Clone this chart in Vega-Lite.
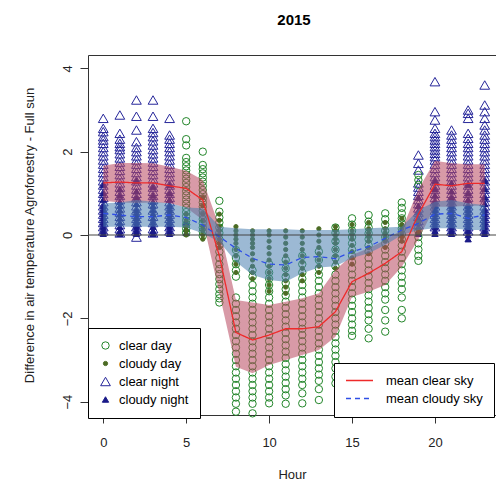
{
"$schema":"https://vega.github.io/schema/vega-lite/v6.json",
"width":408,"height":360,
"autosize":{"type":"none"},
"padding":{"left":88,"top":55,"right":0,"bottom":66},
"title":{"text":"2015","fontSize":15,"fontWeight":"bold","font":"Liberation Sans","color":"black","offset":27,"anchor":"middle","dx":2},
"config":{
 "font":"Liberation Sans",
 "view":{"stroke":"#333","strokeWidth":1},
 "axis":{"grid":false,"domain":false,"tickColor":"#333","tickSize":8,"labelFontSize":13,"labelColor":"#222","titleFontSize":13,"titleFontWeight":"normal","titleColor":"#222","labelFont":"Liberation Sans","titleFont":"Liberation Sans"}
},
"datasets":{
"stats":[
{"h":0,"s":"clear","m":1.25,"lo":0.82,"hi":1.66},
{"h":1,"s":"clear","m":1.27,"lo":0.78,"hi":1.73},
{"h":2,"s":"clear","m":1.25,"lo":0.77,"hi":1.73},
{"h":3,"s":"clear","m":1.25,"lo":0.78,"hi":1.72},
{"h":4,"s":"clear","m":1.18,"lo":0.76,"hi":1.64},
{"h":5,"s":"clear","m":1.12,"lo":0.66,"hi":1.54},
{"h":6,"s":"clear","m":0.84,"lo":0.36,"hi":1.32},
{"h":7,"s":"clear","m":-0.5,"lo":-1.4,"hi":0.2},
{"h":8,"s":"clear","m":-2.34,"lo":-3.16,"hi":-1.56},
{"h":9,"s":"clear","m":-2.52,"lo":-3.32,"hi":-1.62},
{"h":10,"s":"clear","m":-2.4,"lo":-3.12,"hi":-1.68},
{"h":11,"s":"clear","m":-2.25,"lo":-3.0,"hi":-1.6},
{"h":12,"s":"clear","m":-2.25,"lo":-2.88,"hi":-1.52},
{"h":13,"s":"clear","m":-2.2,"lo":-2.76,"hi":-1.4},
{"h":14,"s":"clear","m":-1.84,"lo":-2.44,"hi":-0.84},
{"h":15,"s":"clear","m":-1.12,"lo":-1.48,"hi":-0.48},
{"h":16,"s":"clear","m":-0.92,"lo":-1.36,"hi":-0.32},
{"h":17,"s":"clear","m":-0.68,"lo":-1.2,"hi":-0.12},
{"h":18,"s":"clear","m":-0.4,"lo":-0.76,"hi":0.12},
{"h":19,"s":"clear","m":0.5,"lo":-0.1,"hi":1.1},
{"h":20,"s":"clear","m":1.22,"lo":0.68,"hi":1.78},
{"h":21,"s":"clear","m":1.18,"lo":0.68,"hi":1.72},
{"h":22,"s":"clear","m":1.24,"lo":0.7,"hi":1.7},
{"h":23,"s":"clear","m":1.24,"lo":0.7,"hi":1.7},
{"h":0,"s":"cloudy","m":0.52,"lo":0.2,"hi":0.76},
{"h":1,"s":"cloudy","m":0.48,"lo":0.2,"hi":0.78},
{"h":2,"s":"cloudy","m":0.44,"lo":0.2,"hi":0.84},
{"h":3,"s":"cloudy","m":0.44,"lo":0.2,"hi":0.8},
{"h":4,"s":"cloudy","m":0.48,"lo":0.2,"hi":0.76},
{"h":5,"s":"cloudy","m":0.42,"lo":0.18,"hi":0.66},
{"h":6,"s":"cloudy","m":0.24,"lo":0.04,"hi":0.64},
{"h":7,"s":"cloudy","m":-0.04,"lo":-0.16,"hi":0.2},
{"h":8,"s":"cloudy","m":-0.32,"lo":-0.64,"hi":0.16},
{"h":9,"s":"cloudy","m":-0.56,"lo":-0.96,"hi":0.14},
{"h":10,"s":"cloudy","m":-0.7,"lo":-1.08,"hi":0.14},
{"h":11,"s":"cloudy","m":-0.72,"lo":-1.12,"hi":0.14},
{"h":12,"s":"cloudy","m":-0.54,"lo":-0.92,"hi":0.12},
{"h":13,"s":"cloudy","m":-0.52,"lo":-0.78,"hi":0.12},
{"h":14,"s":"cloudy","m":-0.57,"lo":-0.75,"hi":0.12},
{"h":15,"s":"cloudy","m":-0.4,"lo":-0.55,"hi":0.14},
{"h":16,"s":"cloudy","m":-0.28,"lo":-0.44,"hi":0.16},
{"h":17,"s":"cloudy","m":-0.08,"lo":-0.24,"hi":0.18},
{"h":18,"s":"cloudy","m":0.12,"lo":0.0,"hi":0.2},
{"h":19,"s":"cloudy","m":0.28,"lo":0.12,"hi":0.6},
{"h":20,"s":"cloudy","m":0.5,"lo":0.16,"hi":0.8},
{"h":21,"s":"cloudy","m":0.52,"lo":0.16,"hi":0.84},
{"h":22,"s":"cloudy","m":0.4,"lo":0.12,"hi":0.76},
{"h":23,"s":"cloudy","m":0.48,"lo":0.12,"hi":0.72}
],
"pts":[
{"h":0,"t":"cn","v":2.8},{"h":0,"t":"cn","v":2.56},{"h":0,"t":"cn","v":2.48},{"h":0,"t":"cn","v":2.36},{"h":0,"t":"cn","v":2.28},{"h":0,"t":"cn","v":2.2},{"h":0,"t":"cn","v":2.1},{"h":0,"t":"cn","v":2.0},{"h":0,"t":"cn","v":1.9},{"h":0,"t":"cn","v":1.8},{"h":0,"t":"cn","v":1.7},{"h":0,"t":"cn","v":1.6},{"h":0,"t":"cn","v":1.5},{"h":0,"t":"cn","v":1.4},{"h":0,"t":"cn","v":1.3},{"h":0,"t":"cn","v":1.2},{"h":0,"t":"cn","v":1.1},{"h":0,"t":"cn","v":1.0},{"h":0,"t":"cn","v":0.9},{"h":0,"t":"cn","v":0.8},{"h":0,"t":"cn","v":0.7},{"h":0,"t":"cn","v":0.6},{"h":0,"t":"cn","v":0.5},{"h":0,"t":"cn","v":0.4},{"h":0,"t":"cn","v":0.3},{"h":0,"t":"cn","v":0.2},{"h":0,"t":"cn","v":0.1},
{"h":1,"t":"cn","v":2.88},{"h":1,"t":"cn","v":2.44},{"h":1,"t":"cn","v":2.3},{"h":1,"t":"cn","v":2.2},{"h":1,"t":"cn","v":2.12},{"h":1,"t":"cn","v":2.05},{"h":1,"t":"cn","v":1.95},{"h":1,"t":"cn","v":1.85},{"h":1,"t":"cn","v":1.75},{"h":1,"t":"cn","v":1.65},{"h":1,"t":"cn","v":1.55},{"h":1,"t":"cn","v":1.45},{"h":1,"t":"cn","v":1.35},{"h":1,"t":"cn","v":1.25},{"h":1,"t":"cn","v":1.15},{"h":1,"t":"cn","v":1.05},{"h":1,"t":"cn","v":0.95},{"h":1,"t":"cn","v":0.85},{"h":1,"t":"cn","v":0.75},{"h":1,"t":"cn","v":0.65},{"h":1,"t":"cn","v":0.55},{"h":1,"t":"cn","v":0.45},{"h":1,"t":"cn","v":0.35},{"h":1,"t":"cn","v":0.25},{"h":1,"t":"cn","v":0.15},{"h":1,"t":"cn","v":0.05},
{"h":2,"t":"cn","v":3.24},{"h":2,"t":"cn","v":2.85},{"h":2,"t":"cn","v":2.52},{"h":2,"t":"cn","v":2.24},{"h":2,"t":"cn","v":2.1},{"h":2,"t":"cn","v":2.0},{"h":2,"t":"cn","v":1.9},{"h":2,"t":"cn","v":1.8},{"h":2,"t":"cn","v":1.7},{"h":2,"t":"cn","v":1.6},{"h":2,"t":"cn","v":1.5},{"h":2,"t":"cn","v":1.4},{"h":2,"t":"cn","v":1.3},{"h":2,"t":"cn","v":1.2},{"h":2,"t":"cn","v":1.1},{"h":2,"t":"cn","v":1.0},{"h":2,"t":"cn","v":0.9},{"h":2,"t":"cn","v":0.8},{"h":2,"t":"cn","v":0.7},{"h":2,"t":"cn","v":0.6},{"h":2,"t":"cn","v":0.5},{"h":2,"t":"cn","v":0.4},{"h":2,"t":"cn","v":0.3},{"h":2,"t":"cn","v":0.2},{"h":2,"t":"cn","v":0.1},{"h":2,"t":"cn","v":-0.05},
{"h":3,"t":"cn","v":3.24},{"h":3,"t":"cn","v":2.85},{"h":3,"t":"cn","v":2.56},{"h":3,"t":"cn","v":2.46},{"h":3,"t":"cn","v":2.36},{"h":3,"t":"cn","v":2.26},{"h":3,"t":"cn","v":2.16},{"h":3,"t":"cn","v":2.05},{"h":3,"t":"cn","v":1.95},{"h":3,"t":"cn","v":1.85},{"h":3,"t":"cn","v":1.75},{"h":3,"t":"cn","v":1.65},{"h":3,"t":"cn","v":1.55},{"h":3,"t":"cn","v":1.45},{"h":3,"t":"cn","v":1.35},{"h":3,"t":"cn","v":1.25},{"h":3,"t":"cn","v":1.15},{"h":3,"t":"cn","v":1.05},{"h":3,"t":"cn","v":0.95},{"h":3,"t":"cn","v":0.85},{"h":3,"t":"cn","v":0.75},{"h":3,"t":"cn","v":0.6},{"h":3,"t":"cn","v":0.45},{"h":3,"t":"cn","v":0.3},{"h":3,"t":"cn","v":0.15},{"h":3,"t":"cn","v":0.05},
{"h":4,"t":"cn","v":2.8},{"h":4,"t":"cn","v":2.4},{"h":4,"t":"cn","v":2.3},{"h":4,"t":"cn","v":2.2},{"h":4,"t":"cn","v":2.1},{"h":4,"t":"cn","v":2.0},{"h":4,"t":"cn","v":1.9},{"h":4,"t":"cn","v":1.8},{"h":4,"t":"cn","v":1.7},{"h":4,"t":"cn","v":1.6},{"h":4,"t":"cn","v":1.5},{"h":4,"t":"cn","v":1.4},{"h":4,"t":"cn","v":1.3},{"h":4,"t":"cn","v":1.2},{"h":4,"t":"cn","v":1.1},{"h":4,"t":"cn","v":1.0},{"h":4,"t":"cn","v":0.9},{"h":4,"t":"cn","v":0.8},{"h":4,"t":"cn","v":0.7},{"h":4,"t":"cn","v":0.6},{"h":4,"t":"cn","v":0.5},{"h":4,"t":"cn","v":0.4},{"h":4,"t":"cn","v":0.3},{"h":4,"t":"cn","v":0.2},{"h":4,"t":"cn","v":0.1},
{"h":19,"t":"cn","v":1.92},{"h":19,"t":"cn","v":1.72},{"h":19,"t":"cn","v":1.56},{"h":19,"t":"cn","v":1.25},{"h":19,"t":"cn","v":1.15},{"h":19,"t":"cn","v":1.05},{"h":19,"t":"cn","v":0.95},{"h":19,"t":"cn","v":0.85},{"h":19,"t":"cn","v":0.75},{"h":19,"t":"cn","v":0.65},{"h":19,"t":"cn","v":0.55},{"h":19,"t":"cn","v":0.45},{"h":19,"t":"cn","v":0.35},{"h":19,"t":"cn","v":0.25},
{"h":20,"t":"cn","v":3.68},{"h":20,"t":"cn","v":2.96},{"h":20,"t":"cn","v":2.76},{"h":20,"t":"cn","v":2.56},{"h":20,"t":"cn","v":2.44},{"h":20,"t":"cn","v":2.36},{"h":20,"t":"cn","v":2.28},{"h":20,"t":"cn","v":2.2},{"h":20,"t":"cn","v":2.12},{"h":20,"t":"cn","v":2.04},{"h":20,"t":"cn","v":1.96},{"h":20,"t":"cn","v":1.88},{"h":20,"t":"cn","v":1.8},{"h":20,"t":"cn","v":1.7},{"h":20,"t":"cn","v":1.6},{"h":20,"t":"cn","v":1.5},{"h":20,"t":"cn","v":1.4},{"h":20,"t":"cn","v":1.3},{"h":20,"t":"cn","v":1.2},{"h":20,"t":"cn","v":1.1},{"h":20,"t":"cn","v":1.0},{"h":20,"t":"cn","v":0.9},{"h":20,"t":"cn","v":0.8},{"h":20,"t":"cn","v":0.7},{"h":20,"t":"cn","v":0.6},{"h":20,"t":"cn","v":0.5},{"h":20,"t":"cn","v":0.4},{"h":20,"t":"cn","v":0.3},{"h":20,"t":"cn","v":0.2},
{"h":21,"t":"cn","v":2.52},{"h":21,"t":"cn","v":2.4},{"h":21,"t":"cn","v":2.3},{"h":21,"t":"cn","v":2.2},{"h":21,"t":"cn","v":2.1},{"h":21,"t":"cn","v":2.0},{"h":21,"t":"cn","v":1.9},{"h":21,"t":"cn","v":1.8},{"h":21,"t":"cn","v":1.7},{"h":21,"t":"cn","v":1.6},{"h":21,"t":"cn","v":1.5},{"h":21,"t":"cn","v":1.4},{"h":21,"t":"cn","v":1.3},{"h":21,"t":"cn","v":1.2},{"h":21,"t":"cn","v":1.1},{"h":21,"t":"cn","v":1.0},{"h":21,"t":"cn","v":0.9},{"h":21,"t":"cn","v":0.8},{"h":21,"t":"cn","v":0.7},{"h":21,"t":"cn","v":0.6},{"h":21,"t":"cn","v":0.5},{"h":21,"t":"cn","v":0.4},{"h":21,"t":"cn","v":0.3},{"h":21,"t":"cn","v":0.2},{"h":21,"t":"cn","v":0.1},
{"h":22,"t":"cn","v":3.0},{"h":22,"t":"cn","v":2.92},{"h":22,"t":"cn","v":2.8},{"h":22,"t":"cn","v":2.44},{"h":22,"t":"cn","v":2.32},{"h":22,"t":"cn","v":2.2},{"h":22,"t":"cn","v":2.1},{"h":22,"t":"cn","v":2.0},{"h":22,"t":"cn","v":1.9},{"h":22,"t":"cn","v":1.8},{"h":22,"t":"cn","v":1.7},{"h":22,"t":"cn","v":1.6},{"h":22,"t":"cn","v":1.5},{"h":22,"t":"cn","v":1.4},{"h":22,"t":"cn","v":1.3},{"h":22,"t":"cn","v":1.2},{"h":22,"t":"cn","v":1.1},{"h":22,"t":"cn","v":1.0},{"h":22,"t":"cn","v":0.9},{"h":22,"t":"cn","v":0.8},{"h":22,"t":"cn","v":0.7},{"h":22,"t":"cn","v":0.6},{"h":22,"t":"cn","v":0.5},{"h":22,"t":"cn","v":0.4},{"h":22,"t":"cn","v":0.3},{"h":22,"t":"cn","v":0.2},{"h":22,"t":"cn","v":0.1},
{"h":23,"t":"cn","v":3.6},{"h":23,"t":"cn","v":3.12},{"h":23,"t":"cn","v":2.96},{"h":23,"t":"cn","v":2.8},{"h":23,"t":"cn","v":2.64},{"h":23,"t":"cn","v":2.52},{"h":23,"t":"cn","v":2.4},{"h":23,"t":"cn","v":2.3},{"h":23,"t":"cn","v":2.2},{"h":23,"t":"cn","v":2.1},{"h":23,"t":"cn","v":2.0},{"h":23,"t":"cn","v":1.9},{"h":23,"t":"cn","v":1.8},{"h":23,"t":"cn","v":1.7},{"h":23,"t":"cn","v":1.6},{"h":23,"t":"cn","v":1.5},{"h":23,"t":"cn","v":1.4},{"h":23,"t":"cn","v":1.3},{"h":23,"t":"cn","v":1.2},{"h":23,"t":"cn","v":1.1},{"h":23,"t":"cn","v":1.0},{"h":23,"t":"cn","v":0.9},{"h":23,"t":"cn","v":0.8},{"h":23,"t":"cn","v":0.7},{"h":23,"t":"cn","v":0.6},{"h":23,"t":"cn","v":0.5},{"h":23,"t":"cn","v":0.4},{"h":23,"t":"cn","v":0.3},{"h":23,"t":"cn","v":0.2},{"h":23,"t":"cn","v":0.1},
{"h":0,"t":"yn","v":1.2},{"h":0,"t":"yn","v":1.0},{"h":0,"t":"yn","v":0.85},{"h":0,"t":"yn","v":0.7},{"h":0,"t":"yn","v":0.6},{"h":0,"t":"yn","v":0.5},{"h":0,"t":"yn","v":0.4},{"h":0,"t":"yn","v":0.3},{"h":0,"t":"yn","v":0.2},{"h":0,"t":"yn","v":0.1},{"h":0,"t":"yn","v":0.03},
{"h":1,"t":"yn","v":1.1},{"h":1,"t":"yn","v":0.95},{"h":1,"t":"yn","v":0.8},{"h":1,"t":"yn","v":0.7},{"h":1,"t":"yn","v":0.6},{"h":1,"t":"yn","v":0.5},{"h":1,"t":"yn","v":0.4},{"h":1,"t":"yn","v":0.3},{"h":1,"t":"yn","v":0.2},{"h":1,"t":"yn","v":0.1},{"h":1,"t":"yn","v":0.03},
{"h":2,"t":"yn","v":1.3},{"h":2,"t":"yn","v":1.05},{"h":2,"t":"yn","v":0.9},{"h":2,"t":"yn","v":0.75},{"h":2,"t":"yn","v":0.6},{"h":2,"t":"yn","v":0.5},{"h":2,"t":"yn","v":0.4},{"h":2,"t":"yn","v":0.3},{"h":2,"t":"yn","v":0.2},{"h":2,"t":"yn","v":0.1},{"h":2,"t":"yn","v":0.03},
{"h":3,"t":"yn","v":1.15},{"h":3,"t":"yn","v":0.95},{"h":3,"t":"yn","v":0.8},{"h":3,"t":"yn","v":0.7},{"h":3,"t":"yn","v":0.6},{"h":3,"t":"yn","v":0.5},{"h":3,"t":"yn","v":0.4},{"h":3,"t":"yn","v":0.3},{"h":3,"t":"yn","v":0.2},{"h":3,"t":"yn","v":0.1},{"h":3,"t":"yn","v":0.03},
{"h":4,"t":"yn","v":1.2},{"h":4,"t":"yn","v":1.0},{"h":4,"t":"yn","v":0.85},{"h":4,"t":"yn","v":0.7},{"h":4,"t":"yn","v":0.6},{"h":4,"t":"yn","v":0.5},{"h":4,"t":"yn","v":0.4},{"h":4,"t":"yn","v":0.3},{"h":4,"t":"yn","v":0.2},{"h":4,"t":"yn","v":0.1},{"h":4,"t":"yn","v":0.03},
{"h":5,"t":"yn","v":0.3},{"h":5,"t":"yn","v":0.15},{"h":5,"t":"yn","v":0.05},
{"h":19,"t":"yn","v":0.9},{"h":19,"t":"yn","v":0.7},{"h":19,"t":"yn","v":0.55},{"h":19,"t":"yn","v":0.4},{"h":19,"t":"yn","v":0.3},{"h":19,"t":"yn","v":0.2},{"h":19,"t":"yn","v":0.1},{"h":19,"t":"yn","v":0.03},
{"h":20,"t":"yn","v":1.3},{"h":20,"t":"yn","v":1.1},{"h":20,"t":"yn","v":0.95},{"h":20,"t":"yn","v":0.8},{"h":20,"t":"yn","v":0.7},{"h":20,"t":"yn","v":0.6},{"h":20,"t":"yn","v":0.5},{"h":20,"t":"yn","v":0.4},{"h":20,"t":"yn","v":0.3},{"h":20,"t":"yn","v":0.2},{"h":20,"t":"yn","v":0.1},{"h":20,"t":"yn","v":0.03},
{"h":21,"t":"yn","v":1.25},{"h":21,"t":"yn","v":1.05},{"h":21,"t":"yn","v":0.9},{"h":21,"t":"yn","v":0.8},{"h":21,"t":"yn","v":0.7},{"h":21,"t":"yn","v":0.6},{"h":21,"t":"yn","v":0.5},{"h":21,"t":"yn","v":0.4},{"h":21,"t":"yn","v":0.3},{"h":21,"t":"yn","v":0.2},{"h":21,"t":"yn","v":0.1},{"h":21,"t":"yn","v":0.03},
{"h":22,"t":"yn","v":1.2},{"h":22,"t":"yn","v":1.0},{"h":22,"t":"yn","v":0.85},{"h":22,"t":"yn","v":0.7},{"h":22,"t":"yn","v":0.6},{"h":22,"t":"yn","v":0.5},{"h":22,"t":"yn","v":0.4},{"h":22,"t":"yn","v":0.3},{"h":22,"t":"yn","v":0.2},{"h":22,"t":"yn","v":0.1},{"h":22,"t":"yn","v":0.0},{"h":22,"t":"yn","v":-0.1},
{"h":23,"t":"yn","v":1.3},{"h":23,"t":"yn","v":1.1},{"h":23,"t":"yn","v":0.9},{"h":23,"t":"yn","v":0.75},{"h":23,"t":"yn","v":0.6},{"h":23,"t":"yn","v":0.5},{"h":23,"t":"yn","v":0.4},{"h":23,"t":"yn","v":0.3},{"h":23,"t":"yn","v":0.2},{"h":23,"t":"yn","v":0.1},{"h":23,"t":"yn","v":0.03},
{"h":5,"t":"cd","v":2.73},{"h":5,"t":"cd","v":2.3},{"h":5,"t":"cd","v":2.15},{"h":5,"t":"cd","v":1.85},{"h":5,"t":"cd","v":1.75},{"h":5,"t":"cd","v":1.65},{"h":5,"t":"cd","v":1.55},{"h":5,"t":"cd","v":1.45},{"h":5,"t":"cd","v":1.35},{"h":5,"t":"cd","v":1.25},{"h":5,"t":"cd","v":1.15},{"h":5,"t":"cd","v":1.05},{"h":5,"t":"cd","v":0.95},{"h":5,"t":"cd","v":0.85},{"h":5,"t":"cd","v":0.75},{"h":5,"t":"cd","v":0.65},{"h":5,"t":"cd","v":0.55},{"h":5,"t":"cd","v":0.45},{"h":5,"t":"cd","v":0.35},{"h":5,"t":"cd","v":0.25},{"h":5,"t":"cd","v":0.15},{"h":5,"t":"cd","v":0.05},
{"h":6,"t":"cd","v":2.0},{"h":6,"t":"cd","v":1.68},{"h":6,"t":"cd","v":1.58},{"h":6,"t":"cd","v":1.48},{"h":6,"t":"cd","v":1.38},{"h":6,"t":"cd","v":1.28},{"h":6,"t":"cd","v":1.18},{"h":6,"t":"cd","v":1.08},{"h":6,"t":"cd","v":0.98},{"h":6,"t":"cd","v":0.88},{"h":6,"t":"cd","v":0.78},{"h":6,"t":"cd","v":0.68},{"h":6,"t":"cd","v":0.58},{"h":6,"t":"cd","v":0.48},{"h":6,"t":"cd","v":0.38},{"h":6,"t":"cd","v":0.28},{"h":6,"t":"cd","v":0.18},{"h":6,"t":"cd","v":0.08},{"h":6,"t":"cd","v":-0.02},
{"h":7,"t":"cd","v":0.82},{"h":7,"t":"cd","v":0.56},{"h":7,"t":"cd","v":0.42},{"h":7,"t":"cd","v":0.3},{"h":7,"t":"cd","v":0.18},{"h":7,"t":"cd","v":0.05},{"h":7,"t":"cd","v":-0.1},{"h":7,"t":"cd","v":-0.25},{"h":7,"t":"cd","v":-0.4},{"h":7,"t":"cd","v":-0.55},{"h":7,"t":"cd","v":-0.7},{"h":7,"t":"cd","v":-0.82},{"h":7,"t":"cd","v":-0.94},{"h":7,"t":"cd","v":-1.06},{"h":7,"t":"cd","v":-1.18},{"h":7,"t":"cd","v":-1.3},{"h":7,"t":"cd","v":-1.42},{"h":7,"t":"cd","v":-1.52},{"h":7,"t":"cd","v":-1.62},
{"h":8,"t":"cd","v":-0.36},{"h":8,"t":"cd","v":-0.55},{"h":8,"t":"cd","v":-0.7},{"h":8,"t":"cd","v":-0.85},{"h":8,"t":"cd","v":-1.0},{"h":8,"t":"cd","v":-1.5},{"h":8,"t":"cd","v":-1.65},{"h":8,"t":"cd","v":-1.8},{"h":8,"t":"cd","v":-1.95},{"h":8,"t":"cd","v":-2.1},{"h":8,"t":"cd","v":-2.25},{"h":8,"t":"cd","v":-2.4},{"h":8,"t":"cd","v":-2.55},{"h":8,"t":"cd","v":-2.7},{"h":8,"t":"cd","v":-2.85},{"h":8,"t":"cd","v":-3.0},{"h":8,"t":"cd","v":-3.15},{"h":8,"t":"cd","v":-3.3},{"h":8,"t":"cd","v":-3.45},{"h":8,"t":"cd","v":-3.6},{"h":8,"t":"cd","v":-3.75},{"h":8,"t":"cd","v":-3.9},{"h":8,"t":"cd","v":-4.05},{"h":8,"t":"cd","v":-4.24},
{"h":9,"t":"cd","v":-0.85},{"h":9,"t":"cd","v":-1.0},{"h":9,"t":"cd","v":-1.2},{"h":9,"t":"cd","v":-1.35},{"h":9,"t":"cd","v":-1.5},{"h":9,"t":"cd","v":-1.65},{"h":9,"t":"cd","v":-1.8},{"h":9,"t":"cd","v":-1.95},{"h":9,"t":"cd","v":-2.1},{"h":9,"t":"cd","v":-2.25},{"h":9,"t":"cd","v":-2.4},{"h":9,"t":"cd","v":-2.55},{"h":9,"t":"cd","v":-2.7},{"h":9,"t":"cd","v":-2.85},{"h":9,"t":"cd","v":-3.0},{"h":9,"t":"cd","v":-3.15},{"h":9,"t":"cd","v":-3.3},{"h":9,"t":"cd","v":-3.45},{"h":9,"t":"cd","v":-3.6},{"h":9,"t":"cd","v":-3.75},{"h":9,"t":"cd","v":-3.9},{"h":9,"t":"cd","v":-4.05},{"h":9,"t":"cd","v":-4.28},
{"h":10,"t":"cd","v":-0.7},{"h":10,"t":"cd","v":-0.9},{"h":10,"t":"cd","v":-1.05},{"h":10,"t":"cd","v":-1.2},{"h":10,"t":"cd","v":-1.35},{"h":10,"t":"cd","v":-1.5},{"h":10,"t":"cd","v":-1.65},{"h":10,"t":"cd","v":-1.8},{"h":10,"t":"cd","v":-1.95},{"h":10,"t":"cd","v":-2.1},{"h":10,"t":"cd","v":-2.25},{"h":10,"t":"cd","v":-2.4},{"h":10,"t":"cd","v":-2.55},{"h":10,"t":"cd","v":-2.7},{"h":10,"t":"cd","v":-2.85},{"h":10,"t":"cd","v":-3.0},{"h":10,"t":"cd","v":-3.15},{"h":10,"t":"cd","v":-3.3},{"h":10,"t":"cd","v":-3.45},{"h":10,"t":"cd","v":-3.6},{"h":10,"t":"cd","v":-3.75},{"h":10,"t":"cd","v":-3.9},{"h":10,"t":"cd","v":-4.04},
{"h":11,"t":"cd","v":-0.6},{"h":11,"t":"cd","v":-0.8},{"h":11,"t":"cd","v":-1.0},{"h":11,"t":"cd","v":-1.15},{"h":11,"t":"cd","v":-1.3},{"h":11,"t":"cd","v":-1.45},{"h":11,"t":"cd","v":-1.6},{"h":11,"t":"cd","v":-1.75},{"h":11,"t":"cd","v":-1.9},{"h":11,"t":"cd","v":-2.05},{"h":11,"t":"cd","v":-2.2},{"h":11,"t":"cd","v":-2.35},{"h":11,"t":"cd","v":-2.5},{"h":11,"t":"cd","v":-2.65},{"h":11,"t":"cd","v":-2.8},{"h":11,"t":"cd","v":-2.95},{"h":11,"t":"cd","v":-3.1},{"h":11,"t":"cd","v":-3.25},{"h":11,"t":"cd","v":-3.4},{"h":11,"t":"cd","v":-3.55},{"h":11,"t":"cd","v":-3.7},{"h":11,"t":"cd","v":-3.85},{"h":11,"t":"cd","v":-4.05},
{"h":12,"t":"cd","v":-0.5},{"h":12,"t":"cd","v":-0.7},{"h":12,"t":"cd","v":-0.9},{"h":12,"t":"cd","v":-1.05},{"h":12,"t":"cd","v":-1.2},{"h":12,"t":"cd","v":-1.35},{"h":12,"t":"cd","v":-1.5},{"h":12,"t":"cd","v":-1.65},{"h":12,"t":"cd","v":-1.8},{"h":12,"t":"cd","v":-1.95},{"h":12,"t":"cd","v":-2.1},{"h":12,"t":"cd","v":-2.25},{"h":12,"t":"cd","v":-2.4},{"h":12,"t":"cd","v":-2.55},{"h":12,"t":"cd","v":-2.7},{"h":12,"t":"cd","v":-2.85},{"h":12,"t":"cd","v":-3.0},{"h":12,"t":"cd","v":-3.15},{"h":12,"t":"cd","v":-3.3},{"h":12,"t":"cd","v":-3.45},{"h":12,"t":"cd","v":-3.6},{"h":12,"t":"cd","v":-3.8},{"h":12,"t":"cd","v":-4.04},
{"h":13,"t":"cd","v":-0.4},{"h":13,"t":"cd","v":-0.6},{"h":13,"t":"cd","v":-0.8},{"h":13,"t":"cd","v":-0.95},{"h":13,"t":"cd","v":-1.1},{"h":13,"t":"cd","v":-1.25},{"h":13,"t":"cd","v":-1.4},{"h":13,"t":"cd","v":-1.55},{"h":13,"t":"cd","v":-1.7},{"h":13,"t":"cd","v":-1.85},{"h":13,"t":"cd","v":-2.0},{"h":13,"t":"cd","v":-2.15},{"h":13,"t":"cd","v":-2.3},{"h":13,"t":"cd","v":-2.45},{"h":13,"t":"cd","v":-2.6},{"h":13,"t":"cd","v":-2.75},{"h":13,"t":"cd","v":-2.9},{"h":13,"t":"cd","v":-3.05},{"h":13,"t":"cd","v":-3.2},{"h":13,"t":"cd","v":-3.35},{"h":13,"t":"cd","v":-3.5},{"h":13,"t":"cd","v":-3.7},{"h":13,"t":"cd","v":-3.96},
{"h":14,"t":"cd","v":0.18},{"h":14,"t":"cd","v":0.05},{"h":14,"t":"cd","v":-0.15},{"h":14,"t":"cd","v":-0.35},{"h":14,"t":"cd","v":-0.55},{"h":14,"t":"cd","v":-0.75},{"h":14,"t":"cd","v":-0.95},{"h":14,"t":"cd","v":-1.1},{"h":14,"t":"cd","v":-1.25},{"h":14,"t":"cd","v":-1.4},{"h":14,"t":"cd","v":-1.55},{"h":14,"t":"cd","v":-1.7},{"h":14,"t":"cd","v":-1.85},{"h":14,"t":"cd","v":-2.0},{"h":14,"t":"cd","v":-2.15},{"h":14,"t":"cd","v":-2.3},{"h":14,"t":"cd","v":-2.45},{"h":14,"t":"cd","v":-2.6},{"h":14,"t":"cd","v":-2.75},{"h":14,"t":"cd","v":-2.9},{"h":14,"t":"cd","v":-3.05},{"h":14,"t":"cd","v":-3.2},{"h":14,"t":"cd","v":-3.4},{"h":14,"t":"cd","v":-3.56},
{"h":15,"t":"cd","v":0.4},{"h":15,"t":"cd","v":0.25},{"h":15,"t":"cd","v":0.1},{"h":15,"t":"cd","v":-0.05},{"h":15,"t":"cd","v":-0.2},{"h":15,"t":"cd","v":-0.35},{"h":15,"t":"cd","v":-0.5},{"h":15,"t":"cd","v":-0.65},{"h":15,"t":"cd","v":-0.8},{"h":15,"t":"cd","v":-0.95},{"h":15,"t":"cd","v":-1.1},{"h":15,"t":"cd","v":-1.25},{"h":15,"t":"cd","v":-1.4},{"h":15,"t":"cd","v":-1.55},{"h":15,"t":"cd","v":-1.7},{"h":15,"t":"cd","v":-1.85},{"h":15,"t":"cd","v":-2.0},{"h":15,"t":"cd","v":-2.15},{"h":15,"t":"cd","v":-2.3},{"h":15,"t":"cd","v":-2.42},
{"h":16,"t":"cd","v":0.48},{"h":16,"t":"cd","v":0.32},{"h":16,"t":"cd","v":0.18},{"h":16,"t":"cd","v":0.04},{"h":16,"t":"cd","v":-0.1},{"h":16,"t":"cd","v":-0.25},{"h":16,"t":"cd","v":-0.4},{"h":16,"t":"cd","v":-0.55},{"h":16,"t":"cd","v":-0.7},{"h":16,"t":"cd","v":-0.85},{"h":16,"t":"cd","v":-1.0},{"h":16,"t":"cd","v":-1.15},{"h":16,"t":"cd","v":-1.3},{"h":16,"t":"cd","v":-1.45},{"h":16,"t":"cd","v":-1.6},{"h":16,"t":"cd","v":-1.75},{"h":16,"t":"cd","v":-1.9},{"h":16,"t":"cd","v":-2.05},{"h":16,"t":"cd","v":-2.25},{"h":16,"t":"cd","v":-2.48},
{"h":17,"t":"cd","v":0.52},{"h":17,"t":"cd","v":0.38},{"h":17,"t":"cd","v":0.25},{"h":17,"t":"cd","v":0.1},{"h":17,"t":"cd","v":-0.05},{"h":17,"t":"cd","v":-0.2},{"h":17,"t":"cd","v":-0.35},{"h":17,"t":"cd","v":-0.5},{"h":17,"t":"cd","v":-0.65},{"h":17,"t":"cd","v":-0.8},{"h":17,"t":"cd","v":-0.95},{"h":17,"t":"cd","v":-1.1},{"h":17,"t":"cd","v":-1.25},{"h":17,"t":"cd","v":-1.4},{"h":17,"t":"cd","v":-1.55},{"h":17,"t":"cd","v":-1.8},{"h":17,"t":"cd","v":-2.05},{"h":17,"t":"cd","v":-2.32},
{"h":18,"t":"cd","v":0.78},{"h":18,"t":"cd","v":0.65},{"h":18,"t":"cd","v":0.52},{"h":18,"t":"cd","v":0.4},{"h":18,"t":"cd","v":0.28},{"h":18,"t":"cd","v":0.15},{"h":18,"t":"cd","v":0.02},{"h":18,"t":"cd","v":-0.1},{"h":18,"t":"cd","v":-0.25},{"h":18,"t":"cd","v":-0.4},{"h":18,"t":"cd","v":-0.55},{"h":18,"t":"cd","v":-0.7},{"h":18,"t":"cd","v":-0.85},{"h":18,"t":"cd","v":-1.0},{"h":18,"t":"cd","v":-1.15},{"h":18,"t":"cd","v":-1.3},{"h":18,"t":"cd","v":-1.5},{"h":18,"t":"cd","v":-1.8},{"h":18,"t":"cd","v":-2.0},
{"h":19,"t":"cd","v":1.44},{"h":19,"t":"cd","v":1.32},{"h":19,"t":"cd","v":1.2},{"h":19,"t":"cd","v":0.1},{"h":19,"t":"cd","v":-0.05},{"h":19,"t":"cd","v":-0.2},{"h":19,"t":"cd","v":-0.35},{"h":19,"t":"cd","v":-0.5},{"h":19,"t":"cd","v":-0.62},
{"h":5,"t":"yd","v":0.5},{"h":5,"t":"yd","v":0.35},{"h":5,"t":"yd","v":0.2},{"h":5,"t":"yd","v":0.1},{"h":5,"t":"yd","v":0.0},
{"h":6,"t":"yd","v":0.9},{"h":6,"t":"yd","v":0.7},{"h":6,"t":"yd","v":0.5},{"h":6,"t":"yd","v":0.35},{"h":6,"t":"yd","v":0.2},{"h":6,"t":"yd","v":0.1},{"h":6,"t":"yd","v":0.0},{"h":6,"t":"yd","v":-0.1},
{"h":7,"t":"yd","v":0.5},{"h":7,"t":"yd","v":0.35},{"h":7,"t":"yd","v":0.2},{"h":7,"t":"yd","v":0.1},{"h":7,"t":"yd","v":0.0},{"h":7,"t":"yd","v":-0.1},{"h":7,"t":"yd","v":-0.2},{"h":7,"t":"yd","v":-0.3},
{"h":8,"t":"yd","v":0.2},{"h":8,"t":"yd","v":0.1},{"h":8,"t":"yd","v":0.0},{"h":8,"t":"yd","v":-0.1},{"h":8,"t":"yd","v":-0.2},{"h":8,"t":"yd","v":-0.35},{"h":8,"t":"yd","v":-0.5},{"h":8,"t":"yd","v":-0.7},{"h":8,"t":"yd","v":-0.9},
{"h":9,"t":"yd","v":0.1},{"h":9,"t":"yd","v":0.0},{"h":9,"t":"yd","v":-0.1},{"h":9,"t":"yd","v":-0.2},{"h":9,"t":"yd","v":-0.3},{"h":9,"t":"yd","v":-0.45},{"h":9,"t":"yd","v":-0.6},{"h":9,"t":"yd","v":-0.75},{"h":9,"t":"yd","v":-0.9},{"h":9,"t":"yd","v":-1.05},
{"h":10,"t":"yd","v":0.1},{"h":10,"t":"yd","v":0.0},{"h":10,"t":"yd","v":-0.15},{"h":10,"t":"yd","v":-0.3},{"h":10,"t":"yd","v":-0.45},{"h":10,"t":"yd","v":-0.6},{"h":10,"t":"yd","v":-0.75},{"h":10,"t":"yd","v":-0.9},{"h":10,"t":"yd","v":-1.05},{"h":10,"t":"yd","v":-1.2},{"h":10,"t":"yd","v":-1.35},
{"h":11,"t":"yd","v":0.1},{"h":11,"t":"yd","v":-0.05},{"h":11,"t":"yd","v":-0.2},{"h":11,"t":"yd","v":-0.35},{"h":11,"t":"yd","v":-0.5},{"h":11,"t":"yd","v":-0.65},{"h":11,"t":"yd","v":-0.8},{"h":11,"t":"yd","v":-0.95},{"h":11,"t":"yd","v":-1.1},{"h":11,"t":"yd","v":-1.25},{"h":11,"t":"yd","v":-1.4},
{"h":12,"t":"yd","v":0.1},{"h":12,"t":"yd","v":-0.05},{"h":12,"t":"yd","v":-0.2},{"h":12,"t":"yd","v":-0.35},{"h":12,"t":"yd","v":-0.5},{"h":12,"t":"yd","v":-0.65},{"h":12,"t":"yd","v":-0.8},{"h":12,"t":"yd","v":-0.95},{"h":12,"t":"yd","v":-1.1},
{"h":13,"t":"yd","v":0.15},{"h":13,"t":"yd","v":0.0},{"h":13,"t":"yd","v":-0.15},{"h":13,"t":"yd","v":-0.3},{"h":13,"t":"yd","v":-0.45},{"h":13,"t":"yd","v":-0.6},{"h":13,"t":"yd","v":-0.75},{"h":13,"t":"yd","v":-0.9},
{"h":14,"t":"yd","v":0.2},{"h":14,"t":"yd","v":0.1},{"h":14,"t":"yd","v":0.0},{"h":14,"t":"yd","v":-0.1},{"h":14,"t":"yd","v":-0.2},{"h":14,"t":"yd","v":-0.35},{"h":14,"t":"yd","v":-0.5},{"h":14,"t":"yd","v":-0.65},{"h":14,"t":"yd","v":-0.8},
{"h":15,"t":"yd","v":0.25},{"h":15,"t":"yd","v":0.1},{"h":15,"t":"yd","v":0.0},{"h":15,"t":"yd","v":-0.1},{"h":15,"t":"yd","v":-0.25},{"h":15,"t":"yd","v":-0.4},{"h":15,"t":"yd","v":-0.55},{"h":15,"t":"yd","v":-0.7},
{"h":16,"t":"yd","v":0.3},{"h":16,"t":"yd","v":0.15},{"h":16,"t":"yd","v":0.05},{"h":16,"t":"yd","v":-0.05},{"h":16,"t":"yd","v":-0.15},{"h":16,"t":"yd","v":-0.3},{"h":16,"t":"yd","v":-0.45},
{"h":17,"t":"yd","v":0.3},{"h":17,"t":"yd","v":0.15},{"h":17,"t":"yd","v":0.05},{"h":17,"t":"yd","v":-0.05},{"h":17,"t":"yd","v":-0.15},{"h":17,"t":"yd","v":-0.3},
{"h":18,"t":"yd","v":0.4},{"h":18,"t":"yd","v":0.25},{"h":18,"t":"yd","v":0.15},{"h":18,"t":"yd","v":0.05},{"h":18,"t":"yd","v":-0.05},{"h":18,"t":"yd","v":-0.15},
{"h":19,"t":"yd","v":0.3},{"h":19,"t":"yd","v":0.1}
]
},
"layer":[
{"data":{"name":"pts"},
 "mark":{"type":"point","opacity":1,"strokeWidth":1},
 "encoding":{
  "x":{"field":"h","type":"quantitative","scale":{"domain":[-0.92,23.68],"nice":false,"zero":false},"axis":{"values":[0,5,10,15,20],"title":"Hour","labelPadding":13,"titlePadding":19}},
  "y":{"field":"v","type":"quantitative","scale":{"domain":[-4.32,4.32],"nice":false,"zero":false},"axis":{"values":[-4,-2,0,2,4],"title":"Difference in air temperature Agroforestry - Full sun","labelAngle":-90,"labelAlign":"center","labelBaseline":"bottom","labelPadding":6,"titlePadding":25}},
  "shape":{"field":"t","type":"nominal","scale":{"domain":["cd","yd","cn","yn"],"range":["circle","circle","triangle-up","triangle-up"]},
   "legend":{"title":null,"orient":"none","legendX":0,"legendY":273,"strokeColor":"black","fillColor":"white","padding":11,"rowPadding":4,"labelFontSize":13,"labelColor":"black","labelOffset":7,"symbolStrokeWidth":1,"labelExpr":"datum.label=='cd'?'clear day':datum.label=='yd'?'cloudy day':datum.label=='cn'?'clear night':'cloudy night'"}},
  "stroke":{"field":"t","type":"nominal","scale":{"domain":["cd","yd","cn","yn"],"range":["#23862a","#4b6b23","#26269a","#1a1a88"]}},
  "fill":{"field":"t","type":"nominal","scale":{"domain":["cd","yd","cn","yn"],"range":["transparent","#4b6b23","transparent","#1a1a88"]}},
  "size":{"field":"t","type":"nominal","scale":{"type":"ordinal","domain":["cd","yd","cn","yn"],"range":[55,18,95,40]}}
 }},
{"data":{"name":"stats"},"transform":[{"filter":"datum.s=='clear'"}],
 "mark":{"type":"area","color":"#b8475e","opacity":0.55},
 "encoding":{"x":{"field":"h","type":"quantitative"},"y":{"field":"lo","type":"quantitative"},"y2":{"field":"hi"}}},
{"data":{"name":"stats"},"transform":[{"filter":"datum.s=='cloudy'"}],
 "mark":{"type":"area","color":"#4a7fb0","opacity":0.55},
 "encoding":{"x":{"field":"h","type":"quantitative"},"y":{"field":"lo","type":"quantitative"},"y2":{"field":"hi"}}},
{"data":{"name":"stats"},
 "mark":{"type":"line","strokeWidth":1.3},
 "encoding":{
  "x":{"field":"h","type":"quantitative"},
  "y":{"field":"m","type":"quantitative"},
  "color":{"field":"s","type":"nominal","scale":{"domain":["clear","cloudy"],"range":["#ee2a2a","#2f4fe6"]},
   "legend":{"title":null,"orient":"none","legendX":246,"legendY":308,"strokeColor":"black","fillColor":"white","padding":11,"rowPadding":4,"labelFontSize":13,"labelColor":"black","labelOffset":12,"symbolType":"stroke","symbolSize":729,"symbolStrokeWidth":1.3,"clipHeight":13,"labelExpr":"datum.label=='clear'?'mean clear sky':'mean cloudy sky'"}},
  "strokeDash":{"field":"s","type":"nominal","scale":{"domain":["clear","cloudy"],"range":[[1,0],[5,4]]}}
 }},
{"data":{"values":[{}]},"mark":{"type":"rule","color":"#444","strokeWidth":1},"encoding":{"y":{"datum":0}}}
]
}
